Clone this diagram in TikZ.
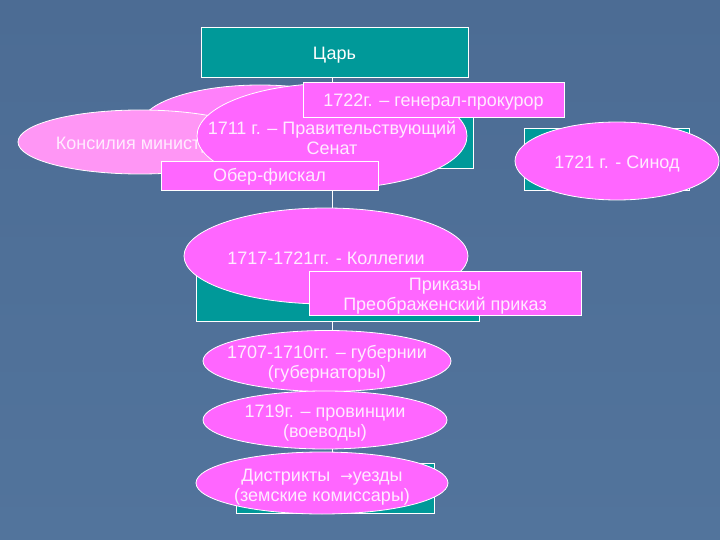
\documentclass[tikz,border=0pt]{standalone}
\usepackage{fontspec}
\setmainfont{Liberation Sans}
\newfontfamily\arrowfont{DejaVu Sans}
\usetikzlibrary{shapes.geometric}
\definecolor{slide}{RGB}{76,108,148}
\definecolor{slidelow}{RGB}{82,116,156}
\definecolor{tealbox}{RGB}{0,153,153}
\definecolor{pinkbox}{RGB}{255,102,255}
\definecolor{pinklight}{RGB}{255,150,245}
\definecolor{pinkmid}{RGB}{255,128,250}
\definecolor{paletext}{RGB}{255,235,255}
\tikzset{
  tealrect/.style={draw=white, line width=0.8pt, fill=tealbox, rectangle, inner sep=0pt},
  pinkrect/.style={draw=white, line width=0.8pt, fill=pinkbox, rectangle, inner sep=0pt},
  pinkoval/.style={draw=white, line width=0.8pt, fill=pinkbox, ellipse, inner sep=0pt},
  boxtext/.style={text=paletext, align=center, inner sep=0pt, yshift=-3},
  conn/.style={draw=white, line width=0.8pt}
}
\begin{document}
\begin{tikzpicture}[x=1pt, y=-1pt, font=\fontsize{18}{20}\selectfont]
	%%%%% START %%%%%
	
	\shade[top color=slide, bottom color=slidelow] (0, 0) rectangle (720, 540);
	\useasboundingbox (0, 0) rectangle (720, 540);
	\coordinate (axis) at (332, 0);
	
	% hidden boxes first
	\node[tealrect, minimum width=267, minimum height=50,
	      label={[boxtext, text=white]center:Царь}] (tsar) at (334.5, 52) {};
	\node[tealrect, minimum width=173, minimum height=80] (senatebox) at (386.5, 128) {};
	\node[tealrect, minimum width=283, minimum height=48] (kollegiibox) at (337.5, 297) {};
	\node[tealrect, minimum width=198, minimum height=50] (uezdybox) at (335, 488) {};
	\node[tealrect, minimum width=165, minimum height=62] (synodbox) at (606.5, 159) {};
	
	\draw[conn] (axis |- tsar.south) -- (axis |- senatebox.north);
	\draw[conn] (axis |- senatebox.south) -- (axis |- kollegiibox.north);
	\draw[conn] (axis |- kollegiibox.south) -- (axis |- uezdybox.north);
	
	% Senate
	\node[pinkoval, fill=pinkmid, minimum width=238, minimum height=80] (konsback) at (260, 125) {};
	\node[pinkoval, fill=pinklight, minimum width=244, minimum height=64,
	      label={[boxtext, xshift=3]center:Консилия министров}] (konsilia) at (140, 142) {};
	\node[pinkoval, minimum width=270, minimum height=105,
	      label={[boxtext, yshift=1]center:{1711 г. – Правительствующий\\Сенат}}] (senate) at (332, 136) {};
	\node[pinkrect, minimum width=261, minimum height=35,
	      label={[boxtext]center:1722г. – генерал-прокурор}] (genprok) at (433.5, 99.5) {};
	\node[pinkrect, minimum width=217, minimum height=29,
	      label={[boxtext, yshift=2]center:Обер-фискал}] (oberfiskal) at (269.5, 175.5) {};
	
	\node[pinkoval, minimum width=204, minimum height=78,
	      label={[boxtext]center:1721 г. - Синод}] (synod) at (617, 161) {};
	
	% Kollegii
	\node[pinkoval, minimum width=284, minimum height=96,
	      label={[boxtext, yshift=1]center:1717-1721гг. - Коллегии}] (kollegii) at (326, 256) {};
	\node[pinkrect, minimum width=272, minimum height=44,
	      label={[boxtext]center:{Приказы\\Преображенский приказ}}] (prikazy) at (445, 293) {};
	
	% local
	\node[pinkoval, minimum width=248, minimum height=61,
	      label={[boxtext]center:{1707-1710гг. – губернии\\(губернаторы)}}] (gubernii) at (327, 361) {};
	\node[pinkoval, minimum width=244, minimum height=58,
	      label={[boxtext]center:{1719г. – провинции\\(воеводы)}}] (provintsii) at (325, 420) {};
	\node[pinkoval, minimum width=252, minimum height=62,
	      label={[boxtext, yshift=-1]center:{Дистрикты \ {\arrowfont\fontsize{15}{15}\selectfont →}уезды\\(земские комиссары)}}] (uezdy) at (322, 483) {};
	
	%%%%% END %%%%%
\end{tikzpicture}
\end{document}
